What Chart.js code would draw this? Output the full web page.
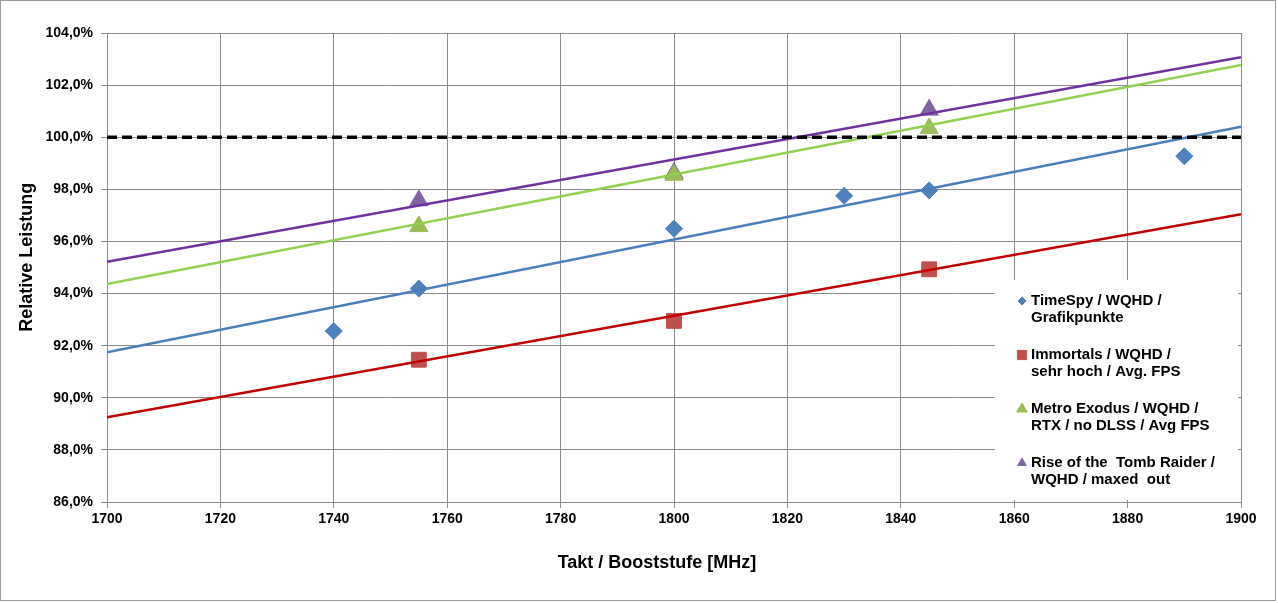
<!DOCTYPE html>
<html>
<head>
<meta charset="utf-8">
<script src="https://cdn.jsdelivr.net/npm/chart.js@4.4.1/dist/chart.umd.min.js"></script>
<style>
  html, body { margin: 0; padding: 0; background: #fff; }
  #wrap { width: 1278px; height: 603px; position: relative; }
</style>
</head>
<body>
<div id="wrap"><canvas id="clockChart"></canvas></div>
<script>
// clock steps in MHz and relative performance in %
const timeSpyX = [1740, 1755, 1800, 1830, 1845, 1890];
const timeSpyY = [92.56, 94.19, 96.49, 97.75, 97.96, 99.27];
const immortalsX = [1755, 1800, 1845];
const immortalsY = [91.46, 92.95, 94.93];
const metroX = [1755, 1800, 1845];
const metroY = [96.58, 98.55, 100.34];
const tombX = [1755, 1800, 1845];
const tombY = [97.57, 98.62, 101.05];

// linear trend lines, read at both ends of the axis
const trendX = [1700, 1900];
const timeSpyTrend = [91.75, 100.4];
const immortalsTrend = [89.25, 97.04];
const metroTrend = [94.37, 102.77];
const tombTrend = [95.22, 103.07];

const baseline = [100, 100];

const seriesLabels = [
  ["TimeSpy / WQHD /", "Grafikpunkte"],
  ["Immortals / WQHD /", "sehr hoch / Avg. FPS"],
  ["Metro Exodus / WQHD /", "RTX / no DLSS / Avg FPS"],
  ["Rise of the  Tomb Raider /", "WQHD / maxed  out"],
];

const yTicks = [86, 88, 90, 92, 94, 96, 98, 100, 102, 104];
const xTicks = [1700, 1720, 1740, 1760, 1780, 1800, 1820, 1840, 1860, 1880, 1900];

const xTitle = "Takt / Booststufe [MHz]";
const yTitle = "Relative Leistung";

const markerColors = ["#4F81BD", "#C0504D", "#9BBB59", "#8064A2"];
const lineColors = ["#4A7EBB", "#C00000", "#92D050", "#7030A0"];
const markerStyles = ["rectRot", "rect", "triangle", "triangle"];

function toPoints(xs, ys) {
  return xs.map((x, i) => ({ x: x, y: ys[i] }));
}

const gridColor = "#8a8a8a";
const font = "'Liberation Sans', Arial, sans-serif";

const frame = {
  id: "frame",
  beforeDraw(chart) {
    const ctx = chart.ctx;
    ctx.save();
    ctx.fillStyle = "#fff";
    ctx.fillRect(0, 0, chart.width, chart.height);
    ctx.strokeStyle = "#9a9a9a";
    ctx.lineWidth = 1;
    ctx.strokeRect(0.5, 0.5, chart.width - 3, chart.height - 3);
    ctx.restore();
  },
};

// axis titles sit a bit off-centre in the original, so they are drawn here
const axisTitles = {
  id: "axisTitles",
  afterDraw(chart) {
    const ctx = chart.ctx;
    const area = chart.chartArea;
    ctx.save();
    ctx.fillStyle = "#000";
    ctx.font = "bold 18px " + font;
    ctx.textAlign = "center";
    ctx.textBaseline = "middle";
    ctx.fillText(xTitle, area.left + area.width * 0.485, 563);
    ctx.translate(27, area.top + area.height * 0.478);
    ctx.rotate(-Math.PI / 2);
    ctx.fillText(yTitle, 0, 0);
    ctx.restore();
  },
};

const legendBox = {
  id: "legendBox",
  afterDraw(chart) {
    const ctx = chart.ctx;
    const area = chart.chartArea;
    const left = area.right - 246;
    const top = area.top + 247;
    ctx.save();
    ctx.fillStyle = "#fff";
    ctx.fillRect(left, top, 243, area.bottom - top - 2);

    const legendSizes = [4, 6.5, 6, 5];
    ctx.font = "bold 15px " + font;
    ctx.textBaseline = "middle";
    ctx.textAlign = "left";
    seriesLabels.forEach((lines, i) => {
      const y = top + 21 + i * 54;
      ctx.fillStyle = markerColors[i];
      ctx.strokeStyle = markerColors[i];
      Chart.helpers.drawPoint(
        ctx,
        { pointStyle: markerStyles[i], radius: legendSizes[i], borderWidth: 1, rotation: 0 },
        left + 27,
        y
      );
      ctx.fillStyle = "#000";
      lines.forEach((t, j) => ctx.fillText(t, left + 36, y + j * 17));
    });
    ctx.restore();
  },
};

const scatterSets = [
  [timeSpyX, timeSpyY, 8.5],
  [immortalsX, immortalsY, 10.5],
  [metroX, metroY, 10.5],
  [tombX, tombY, 10.5],
].map((s, i) => ({
  type: "scatter",
  data: toPoints(s[0], s[1]),
  pointStyle: markerStyles[i],
  pointRadius: s[2],
  backgroundColor: markerColors[i],
  borderColor: markerColors[i],
  borderWidth: 1,
  order: 2,
}));

const trendSets = [timeSpyTrend, immortalsTrend, metroTrend, tombTrend].map((t, i) => ({
  type: "line",
  data: toPoints(trendX, t),
  borderColor: lineColors[i],
  borderWidth: 2.5,
  pointRadius: 0,
  fill: false,
  order: 1,
}));

const baselineSet = {
  type: "line",
  data: toPoints(trendX, baseline),
  borderColor: "#000",
  borderWidth: 3.5,
  borderDash: [10, 5],
  pointRadius: 0,
  fill: false,
  order: 0,
};

new Chart(document.getElementById("clockChart"), {
  type: "scatter",
  data: { datasets: [baselineSet, ...trendSets, ...scatterSets] },
  options: {
    responsive: true,
    maintainAspectRatio: false,
    animation: false,
    layout: { padding: { left: 17, top: 33, right: 37, bottom: 30 } },
    plugins: {
      legend: { display: false },
      tooltip: { enabled: false },
    },
    scales: {
      x: {
        type: "linear",
        min: 1700,
        max: 1900,
        afterBuildTicks: (scale) => {
          scale.ticks = xTicks.map((v) => ({ value: v }));
        },
        afterFit: (scale) => {
          scale.height = 71;
        },
        grid: { color: gridColor, tickLength: 6 },
        border: { color: gridColor },
        ticks: {
          color: "#000",
          padding: 3,
          font: { family: font, size: 14, weight: "bold" },
          callback: (v) => String(v),
        },
      },
      y: {
        min: 86,
        max: 104,
        afterBuildTicks: (scale) => {
          scale.ticks = yTicks.map((v) => ({ value: v }));
        },
        afterFit: (scale) => {
          scale.width = 90;
        },
        grid: { color: gridColor, tickLength: 6 },
        border: { color: gridColor },
        ticks: {
          color: "#000",
          padding: 8,
          font: { family: font, size: 14, weight: "bold" },
          callback: (v) => v.toFixed(1).replace(".", ",") + "%",
        },
      },
    },
  },
  plugins: [frame, axisTitles, legendBox],
});
</script>
</body>
</html>
